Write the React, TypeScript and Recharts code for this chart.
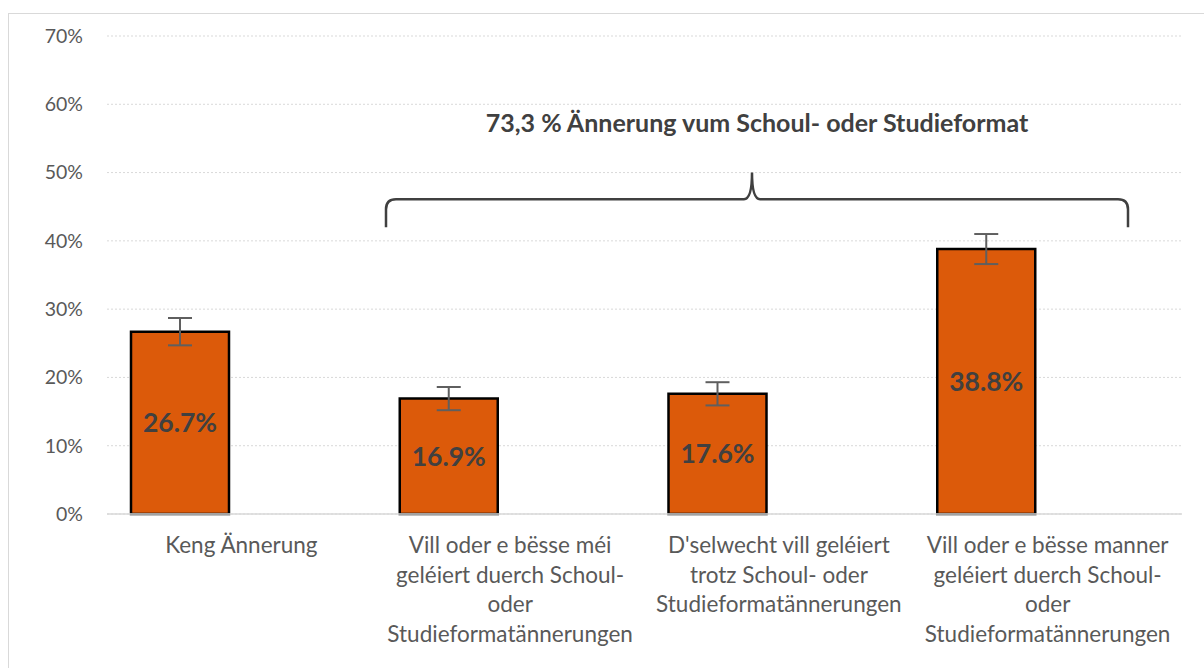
import React from 'react';
import { BarChart, Bar, XAxis, YAxis, CartesianGrid, ErrorBar, LabelList } from 'recharts';

const categories = [
  'Keng Ännerung',
  'Vill oder e bësse méi\ngeléiert duerch Schoul-\noder\nStudieformatännerungen',
  "D'selwecht vill geléiert\ntrotz Schoul- oder\nStudieformatännerungen",
  'Vill oder e bësse manner\ngeléiert duerch Schoul-\noder\nStudieformatännerungen',
];
const shares = [26.7, 16.9, 17.6, 38.8];
const errors = [2.0, 1.7, 1.7, 2.2];
const yTicks = [0, 10, 20, 30, 40, 50, 60, 70];
const braceText = '73,3 % Ännerung vum Schoul- oder Studieformat';

const data = categories.map((name, i) => ({ name, pct: shares[i], err: errors[i], spacer: null }));

const W = 1204;
const H = 668;
const PLOT_LEFT = 107;
const PLOT_RIGHT = 1182;
const PLOT_TOP = 36;
const PLOT_BOTTOM = 514;
const FONT = 'Lato, "Open Sans", sans-serif';

const yPx = (v: number) => PLOT_BOTTOM - (v / 70) * (PLOT_BOTTOM - PLOT_TOP);

function CategoryTick(props: any) {
  const { x, y, payload } = props;
  const lines = String(payload.value).split('\n');
  return (
    <text x={x} y={y} textAnchor="middle" fill="#595959" fontSize={22.5} fontFamily={FONT}>
      {lines.map((l, i) => (
        <tspan key={i} x={x} dy={i === 0 ? 39 : 29.5}>{l}</tspan>
      ))}
    </text>
  );
}

function Brace() {
  // curly bracket grouping the three "change" categories
  const left = 386;
  const right = 1128;
  const mid = 752;
  const yBar = yPx(46.1);
  const yEnd = yPx(42);
  const yTip = yPx(50);
  const r = 10;
  const d = [
    `M ${left} ${yEnd}`,
    `L ${left} ${yBar + r}`,
    `Q ${left} ${yBar} ${left + r} ${yBar}`,
    `L ${mid - 8} ${yBar}`,
    `Q ${mid} ${yBar} ${mid} ${yTip}`,
    `Q ${mid} ${yBar} ${mid + 8} ${yBar}`,
    `L ${right - r} ${yBar}`,
    `Q ${right} ${yBar} ${right} ${yBar + r}`,
    `L ${right} ${yEnd}`,
  ].join(' ');
  return (
    <svg width={W} height={H} style={{ position: 'absolute', left: 0, top: 0, pointerEvents: 'none' }}>
      <path d={d} fill="none" stroke="#404040" strokeWidth={2.5} />
      <text x={757} y={yPx(57.4)} textAnchor="middle" dominantBaseline="central" fill="#404040"
        fontSize={25} fontWeight={700} fontFamily={FONT}>
        {braceText}
      </text>
    </svg>
  );
}

export default function App() {
  return (
    <div style={{ position: 'fixed', left: 0, top: 0, width: W, height: H, background: '#fff', overflow: 'hidden', fontFamily: FONT }}>
      <div style={{ position: 'absolute', left: 8, top: 13, width: 1200, height: 700, border: '1.5px solid #d9d9d9' }} />
      <div style={{ position: 'absolute', left: 0, top: 0 }}>
        <BarChart
          width={W}
          height={H}
          data={data}
          margin={{ top: PLOT_TOP, right: W - PLOT_RIGHT, bottom: H - PLOT_BOTTOM - 140, left: 0 }}
          barCategoryGap={24}
          barGap={25}
        >
          <CartesianGrid vertical={false} stroke="#d9d9d9" strokeDasharray="2 2" />
          <XAxis
            dataKey="name"
            height={140}
            interval={0}
            tickLine={false}
            tickSize={0}
            tickMargin={0}
            axisLine={{ stroke: '#d9d9d9', strokeWidth: 1.5 }}
            tick={<CategoryTick />}
          />
          <YAxis
            width={PLOT_LEFT}
            domain={[0, 70]}
            ticks={yTicks}
            tickFormatter={(v) => `${v}%`}
            axisLine={false}
            tickLine={false}
            tickSize={6}
            tickMargin={18}
            tick={{ fill: '#595959', fontSize: 19.5, fontFamily: FONT }}
          />
          <Bar dataKey="pct" fill="#dc5a0a" stroke="#000" strokeWidth={2.5} isAnimationActive={false}>
            <ErrorBar dataKey="err" width={12} strokeWidth={2} stroke="#5f5f5f" direction="y" />
            <LabelList
              dataKey="pct"
              position="center"
              formatter={(v: any) => `${v}%`}
              fill="#404040"
              fontSize={26.5}
              fontWeight={700}
              fontFamily={FONT}
            />
          </Bar>
          <Bar dataKey="spacer" fill="none" isAnimationActive={false} />
        </BarChart>
      </div>
      <Brace />
    </div>
  );
}
